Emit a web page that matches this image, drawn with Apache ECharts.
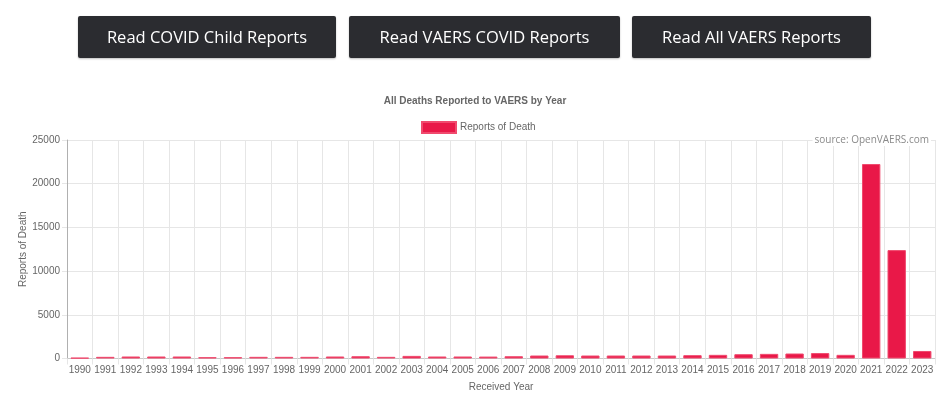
<!DOCTYPE html>
<html><head><meta charset="utf-8">
<script src="https://cdn.jsdelivr.net/npm/echarts@6/dist/echarts.min.js"></script>
<style>
html,body{margin:0;padding:0;background:#fff;width:950px;height:408px;overflow:hidden;}
#chart{position:absolute;left:0;top:0;width:950px;height:408px;}
.btn{position:absolute;top:16px;height:42px;background:#2b2c30;color:#fff;border-radius:2px;
font-family:"Open Sans",sans-serif;font-size:16.5px;line-height:42px;text-align:center;box-shadow:0 1px 2px rgba(0,0,0,0.25);}
</style></head>
<body>
<div id="chart"></div>
<div class="btn" style="left:78px;width:258px;">Read COVID Child Reports</div>
<div class="btn" style="left:349px;width:271px;">Read VAERS COVID Reports</div>
<div class="btn" style="left:632px;width:239px;">Read All VAERS Reports</div>
<script>
const years = ['1990','1991','1992','1993','1994','1995','1996','1997','1998','1999','2000','2001','2002','2003','2004','2005','2006','2007','2008','2009','2010','2011','2012','2013','2014','2015','2016','2017','2018','2019','2020','2021','2022','2023'];
const deaths = [80,190,230,230,230,150,150,190,190,190,230,260,190,300,230,230,220,260,340,370,340,340,340,340,380,420,490,530,570,620,420,22250,12400,860];
const yTicks = [0,5000,10000,15000,20000,25000];
const titleText = 'All Deaths Reported to VAERS by Year';
const seriesName = 'Reports of Death';
const xName = 'Received Year';
const yName = 'Reports of Death';
const sourceText = 'source: OpenVAERS.com';

const chart = echarts.init(document.getElementById('chart'));
const font = 'Liberation Sans, Arial, sans-serif';
chart.setOption({
  animation:false,
  title:{text:titleText,left:'center',top:96,padding:0,textStyle:{fontFamily:font,fontSize:10,fontWeight:'bold',color:'#666'}},
  legend:{data:[seriesName],top:121,left:421,padding:0,itemWidth:34,itemHeight:11,itemGap:5,icon:'rect',
    textStyle:{fontFamily:font,fontSize:10,color:'#666',padding:[0,0,0,-1]}},
  grid:{left:67,right:15,top:140,bottom:49.5},
  xAxis:{type:'category',data:years,boundaryGap:true,
    name:xName,nameLocation:'middle',nameGap:24,nameTextStyle:{fontFamily:font,fontSize:10,color:'#666'},
    axisLine:{lineStyle:{color:'#c8c8c8'}},
    axisTick:{show:true,length:6,lineStyle:{color:'#e6e6e6'}},
    axisLabel:{fontFamily:font,fontSize:10,color:'#666',margin:7,interval:0},
    splitLine:{show:true,lineStyle:{color:'#e6e6e6'}}},
  yAxis:{type:'value',min:yTicks[0],max:yTicks[yTicks.length-1],interval:5000,
    name:yName,nameLocation:'middle',nameGap:39,nameMoveOverlap:false,nameTextStyle:{fontFamily:font,fontSize:10,color:'#666'},
    axisLine:{show:true,lineStyle:{color:'#b0b0b0'}},
    axisTick:{show:true,length:5,lineStyle:{color:'#e6e6e6'}},
    axisLabel:{fontFamily:font,fontSize:10,color:'#666',margin:7,formatter:function(v){return String(v);}},
    splitLine:{show:true,lineStyle:{color:'#e6e6e6'}}},
  graphic:[{type:'text',right:19,top:134,z:100,
    style:{text:sourceText,fontFamily:'Open Sans, sans-serif',fontSize:10,fill:'#8a8a8a',
      backgroundColor:'#fff',padding:[1,2]}}],
  series:[{name:seriesName,type:'bar',data:deaths,barCategoryGap:'28%',
    itemStyle:{color:'#e91848',borderColor:'#f04a6e',borderWidth:1}}]
});
</script>
</body></html>
